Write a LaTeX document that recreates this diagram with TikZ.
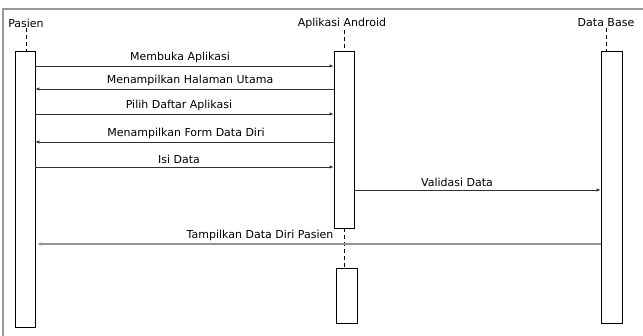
\documentclass[tikz,border=0pt]{standalone}
\usepackage{fontspec}
\setmainfont{DejaVu Sans}
\usetikzlibrary{arrows.meta,positioning}
\tikzset{actor/.style={inner sep=0pt},
  lifebar/.style={draw,fill=white,line width=0.8pt,minimum width=20pt,inner sep=0pt},
  lifeline/.style={line width=0.8pt,dash pattern=on 4pt off 3pt},
  msg/.style={-{Latex[length=4pt,width=3.5pt]},line width=0.8pt,draw=black!80},
  msglabel/.style={inner sep=1pt,anchor=south},
  frame/.style={draw=gray!80,line width=1.5pt}}

\begin{document}
\begin{tikzpicture}[x=1pt,y=-1pt,font=\fontsize{11}{13}\selectfont]
\useasboundingbox (0,0) rectangle (643,336);
\draw[frame] (3,337) -- (3,9) -- (644,9);
% actors
\node[actor] (pasien) at (26,23) {Pasien};
\node[actor] (android) at (342,23) {Aplikasi Android};
\node[actor] (db) at (606,23) {Data Base};
% activation bars
\node[lifebar,minimum height=276pt] (pbar) at (25,189) {};
\node[lifebar,minimum height=177pt] (abar) at (344,139.5) {};
\node[lifebar,minimum height=55pt,minimum width=21pt] (abar2) at (346.5,295.5) {};
\node[lifebar,minimum width=21pt,minimum height=272pt] (dbar) at (611.5,187) {};
\draw[lifeline] (pasien.south) ++(0,1) -- (pasien.south |- pbar.north);
\draw[lifeline] (abar.north |- android.south) ++(0,1) -- (abar.north);
\draw[lifeline] (abar.south) -- (abar.south |- abar2.north);
\draw[lifeline] (db.south) ++(0,1) -- (db.south |- dbar.north);
% messages
\foreach \y/\lx/\from/\to/\txt in {66/180/pbar.east/abar.west/Membuka Aplikasi,
  89/190/abar.west/pbar.east/Menampilkan Halaman Utama,
  114/179/pbar.east/abar.west/Pilih Daftar Aplikasi,
  142/186/abar.west/pbar.east/Menampilkan Form Data Diri,
  167/179/pbar.east/abar.west/Isi Data,
  190/457/abar.east/dbar.west/Validasi Data} {
  \draw[msg] (\from |- 0,\y) -- (\to |- 0,\y);
  \node[msglabel] (m\y) at (\lx,\y-2) {\txt};}
\draw[msg,draw=gray!85,line width=1.1pt,shorten >=2pt] (dbar.west |- 0,244) -- (pbar.east |- 0,244);
\node[msglabel] (m244) at (260,242) {Tampilkan Data Diri Pasien};
\end{tikzpicture}
\end{document}
